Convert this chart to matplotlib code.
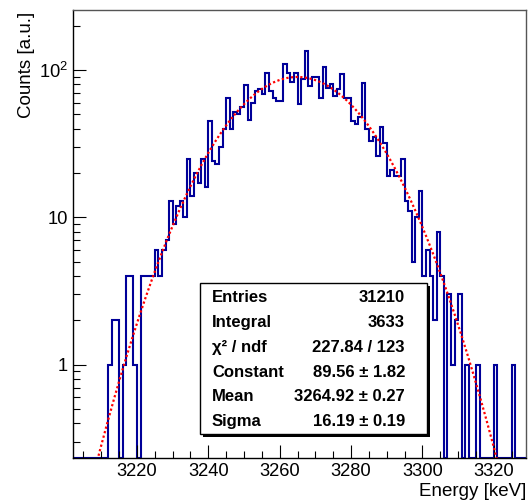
import numpy as np
import matplotlib
matplotlib.use("Agg")
import matplotlib.pyplot as plt
from matplotlib.patches import Rectangle
from matplotlib.ticker import (FixedLocator, FixedFormatter, MultipleLocator,
                               LogLocator, NullFormatter)

plt.rcParams['font.family'] = ['Liberation Sans', 'DejaVu Sans']
plt.rcParams['mathtext.fontset'] = 'custom'
plt.rcParams['mathtext.rm'] = 'Liberation Sans'

# histogram, 1 keV bins starting at 3202 keV
bin_start = 3202
counts = [
    0, 0, 0, 0, 0, 0, 0, 0, 0, 0,            # 3202-3211
    1, 2, 2, 0, 1, 4, 4, 1, 0, 4,            # 3212-3221
    4, 4, 4, 6, 4, 6, 7, 13, 9, 12,          # 3222-3231
    13, 10, 25, 14, 20, 17, 25, 16, 45, 24,  # 3232-3241
    23, 30, 40, 64, 40, 52, 50, 56, 79, 46,  # 3242-3251
    60, 72, 74, 69, 95, 72, 65, 62, 62, 109, # 3252-3261
    96, 83, 95, 59, 87, 135, 78, 89, 90, 65, # 3262-3271
    104, 75, 80, 67, 74, 94, 65, 65, 45, 43, # 3272-3281
    48, 82, 40, 33, 35, 26, 41, 32, 19, 21,  # 3282-3291
    19, 19, 25, 13, 11, 5, 10, 15, 4, 6,     # 3292-3301
    4, 2, 8, 4, 0, 3, 1, 2, 3, 0,            # 3302-3311
    1, 0, 0, 1, 0, 0, 0, 0, 1, 0,            # 3312-3321
    0, 0, 0, 1, 0, 0, 0,                     # 3322-3328
]
edges = np.arange(bin_start, bin_start + len(counts) + 1)

# gaussian fit parameters
fit_const = 89.56
fit_mean = 3264.92
fit_sigma = 16.19

stat_names = ["Entries", "Integral", "\u03c7\u00b2 / ndf", "Constant", "Mean", "Sigma"]
stat_values = ["31210", "3633", "227.84 / 123", "89.56 \u00b1 1.82",
               "3264.92 \u00b1 0.27", "16.19 \u00b1 0.19"]

W, H = 532, 500
fig = plt.figure(figsize=(W / 100, H / 100), dpi=100)
ax = fig.add_axes([72.7 / W, 42 / H, 453.3 / W, 448 / H])
ax.set_yscale('log')
ylo, yhi = 0.233, 255
ax.set_xlim(3202, 3329)
ax.set_ylim(ylo, yhi)

# empty bins sit on the bottom of the frame, as ROOT draws them
vals = np.clip(np.array(counts, dtype=float), ylo, None)
ax.stairs(vals, edges, color='#000099', lw=1.5, baseline=None)

xf = np.linspace(edges[0], edges[-1], 800)
yf = fit_const * np.exp(-0.5 * ((xf - fit_mean) / fit_sigma) ** 2)
ax.plot(xf, yf, color='red', lw=1.6, ls=(0, (1, 1.1)))

ax.xaxis.set_major_locator(MultipleLocator(20))
ax.xaxis.set_minor_locator(MultipleLocator(5))
ax.yaxis.set_major_locator(FixedLocator([1, 10, 100]))
ax.yaxis.set_major_formatter(FixedFormatter(['1', '10', r'$\mathregular{10^{2}}$']))
ax.yaxis.set_minor_locator(LogLocator(base=10, subs=range(2, 10)))
ax.yaxis.set_minor_formatter(NullFormatter())
ax.tick_params(which='both', direction='in', top=False, right=False,
               labelsize=13.2, pad=3.5, width=0.8)
ax.tick_params(which='major', length=9.7)
ax.tick_params(which='minor', length=4.8)

for s in ['left', 'bottom']:
    ax.spines[s].set_linewidth(1.0)
for s in ['top', 'right']:
    ax.spines[s].set_color('#555555')
    ax.spines[s].set_linewidth(1.0)

ax.set_xlabel('Energy [keV]', fontsize=13.5, loc='right')
ax.xaxis.set_label_coords(1.0, -25 / 448)
ax.set_ylabel('Counts [a.u.]', fontsize=13.5, loc='top')
ax.yaxis.set_label_coords((35 - 72.7) / 453.3, 1.0 - 2 / 448)

# stats box (pixel positions measured from the top-left corner)
bx0, by0, bx1, by1 = 200, 283.3, 427.3, 434
fig.add_artist(Rectangle((( bx0 + 3) / W, 1 - (by1 + 3) / H),
                         (bx1 - bx0) / W, (by1 - by0) / H,
                         transform=fig.transFigure, facecolor='black',
                         edgecolor='black', lw=0))
fig.add_artist(Rectangle((bx0 / W, 1 - by1 / H), (bx1 - bx0) / W, (by1 - by0) / H,
                         transform=fig.transFigure, facecolor='white',
                         edgecolor='black', lw=1.0))
for i, (name, val) in enumerate(zip(stat_names, stat_values)):
    yb = 1 - (302.3 + i * 24.74) / H
    fig.text(212 / W, yb, name, fontsize=12, fontweight='bold',
             ha='left', va='baseline')
    fig.text(405 / W, yb, val, fontsize=12, fontweight='bold',
             ha='right', va='baseline')

fig.savefig('out.png', dpi=100)
